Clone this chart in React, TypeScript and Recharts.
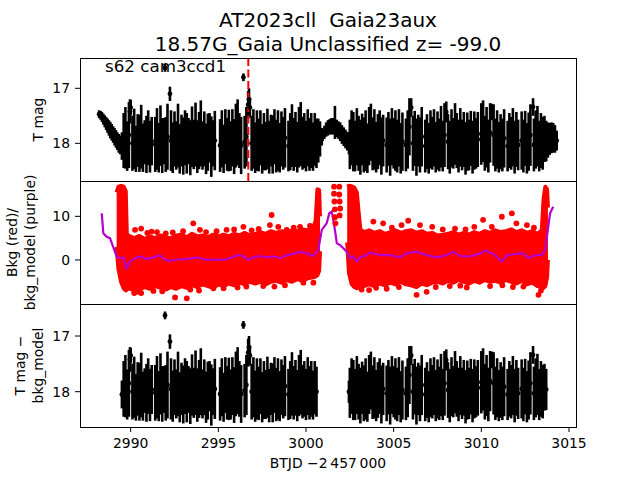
import React from 'react';
import {
  ComposedChart,
  Scatter,
  ErrorBar,
  Area,
  Line,
  XAxis,
  YAxis,
  ReferenceLine
} from 'recharts';

// T mag light curve, rows are [BTJD - 2457000, mag, err]
const rampStart = [
  [2988.2, 17.47, 0.07], [2988.28, 17.49, 0.08], [2988.36, 17.52, 0.09], [2988.44, 17.56, 0.1],
  [2988.52, 17.6, 0.11], [2988.6, 17.64, 0.12], [2988.68, 17.68, 0.13], [2988.76, 17.72, 0.14],
  [2988.84, 17.76, 0.15], [2988.92, 17.8, 0.15], [2989.0, 17.84, 0.15], [2989.08, 17.88, 0.16],
  [2989.16, 17.92, 0.16], [2989.24, 17.96, 0.16], [2989.32, 18.0, 0.17], [2989.4, 18.03, 0.17],
];

const orbit1 = [
  [2989.5, 18.05, 0.25], [2989.6, 17.95, 0.5], [2989.7, 17.9, 0.56], [2989.8, 18.05, 0.45],
  [2989.9, 17.85, 0.6], [2989.96, 17.42, 0.22], [2990.0, 17.35, 0.14], [2990.1, 18.0, 0.5],
  [2990.2, 17.92, 0.55], [2990.3, 18.1, 0.42], [2990.4, 17.95, 0.48], [2990.5, 18.0, 0.52],
  [2990.6, 17.88, 0.58], [2990.7, 18.08, 0.44], [2990.8, 17.98, 0.4], [2990.9, 18.02, 0.52],
  [2991.0, 17.9, 0.5], [2991.1, 18.06, 0.47], [2991.2, 17.96, 0.44], [2991.4, 18.02, 0.5],
  [2991.5, 17.92, 0.56], [2991.6, 18.08, 0.45], [2991.7, 17.86, 0.55], [2991.8, 18.04, 0.5],
  [2991.9, 17.96, 0.42], [2991.96, 16.63, 0.07], [2992.0, 18.02, 0.5], [2992.1, 17.88, 0.6],
  [2992.24, 17.1, 0.13], [2992.3, 17.95, 0.55], [2992.4, 18.08, 0.46], [2992.5, 17.92, 0.5],
  [2992.6, 18.04, 0.44], [2992.7, 17.86, 0.58], [2992.8, 18.1, 0.45], [2992.9, 17.95, 0.47],
  [2993.0, 18.05, 0.52], [2993.1, 17.9, 0.5], [2993.2, 18.0, 0.55], [2993.3, 17.96, 0.42],
  [2993.4, 18.08, 0.5], [2993.5, 17.88, 0.55], [2993.6, 18.02, 0.45], [2993.7, 17.84, 0.58],
  [2993.8, 18.06, 0.48], [2993.9, 17.95, 0.52], [2994.0, 17.82, 0.6], [2994.1, 18.04, 0.44],
  [2994.2, 17.92, 0.5], [2994.3, 18.1, 0.46], [2994.4, 17.98, 0.52], [2994.5, 17.9, 0.45],
  [2994.6, 18.06, 0.55], [2994.7, 18.0, 0.42], [2994.8, 17.95, 0.54], [2995.1, 18.04, 0.48],
  [2995.2, 17.92, 0.52], [2995.3, 18.1, 0.44], [2995.4, 17.88, 0.5], [2995.5, 18.02, 0.48],
  [2995.6, 17.95, 0.56], [2995.7, 18.05, 0.45], [2995.8, 17.9, 0.52], [2995.9, 18.06, 0.5],
  [2996.0, 17.86, 0.58], [2996.1, 17.8, 0.6], [2996.2, 17.95, 0.5], [2996.3, 18.04, 0.52],
  [2996.43, 16.8, 0.07], [2996.5, 17.98, 0.48], [2996.6, 17.88, 0.54], [2996.7, 17.3, 0.25],
  [2996.75, 17.2, 0.2], [2996.8, 17.35, 0.18], [2996.9, 18.0, 0.5], [2997.0, 17.92, 0.54],
  [2997.1, 18.08, 0.46], [2997.2, 17.95, 0.55], [2997.3, 18.03, 0.48], [2997.4, 17.9, 0.5],
  [2997.5, 18.1, 0.45], [2997.6, 17.97, 0.52], [2997.7, 18.05, 0.44], [2997.8, 17.92, 0.55],
  [2997.9, 18.07, 0.48], [2998.0, 17.95, 0.47], [2998.1, 18.02, 0.53], [2998.2, 17.88, 0.5],
  [2998.3, 18.05, 0.48], [2998.4, 17.95, 0.55], [2998.5, 18.08, 0.45], [2998.6, 17.92, 0.5],
  [2998.7, 18.0, 0.48], [2998.8, 17.9, 0.54], [2999.0, 18.05, 0.46], [2999.1, 17.97, 0.52],
  [2999.2, 17.86, 0.57], [2999.3, 18.02, 0.48], [2999.4, 17.93, 0.5], [2999.5, 18.07, 0.46],
  [2999.6, 17.89, 0.55], [2999.7, 17.83, 0.58], [2999.8, 18.0, 0.48], [2999.9, 17.95, 0.5],
  [3000.0, 18.05, 0.46], [3000.1, 17.9, 0.52], [3000.2, 18.02, 0.48], [3000.3, 17.95, 0.5],
  [3000.4, 18.06, 0.44], [3000.5, 17.93, 0.48], [3000.6, 18.0, 0.45], [3000.7, 17.95, 0.4],
  [3000.8, 17.92, 0.32], [3000.9, 17.88, 0.16],
];

const hump = [
  [3000.95, 17.86, 0.1], [3001.05, 17.8, 0.12], [3001.15, 17.75, 0.13], [3001.25, 17.72, 0.14],
  [3001.35, 17.7, 0.14], [3001.45, 17.69, 0.15], [3001.55, 17.69, 0.15], [3001.65, 17.62, 0.3],
  [3001.75, 17.73, 0.16], [3001.85, 17.76, 0.16], [3001.95, 17.79, 0.17], [3002.05, 17.84, 0.17],
  [3002.15, 17.88, 0.17], [3002.25, 17.92, 0.17], [3002.35, 17.96, 0.17], [3002.45, 18.0, 0.2],
];

const orbit2 = [
  [3002.5, 18.02, 0.45], [3002.6, 17.9, 0.5], [3002.7, 17.97, 0.54], [3002.8, 18.05, 0.46],
  [3002.9, 17.88, 0.52], [3003.0, 18.0, 0.5], [3003.1, 18.07, 0.5], [3003.2, 17.93, 0.47],
  [3003.3, 18.03, 0.5], [3003.4, 17.95, 0.55], [3003.5, 18.09, 0.45], [3003.6, 17.87, 0.53],
  [3003.7, 17.8, 0.52], [3003.8, 18.01, 0.48], [3003.9, 17.93, 0.55], [3004.0, 18.07, 0.46],
  [3004.1, 17.97, 0.5], [3004.2, 17.9, 0.5], [3004.3, 18.05, 0.52], [3004.4, 17.95, 0.47],
  [3004.6, 18.03, 0.5], [3004.7, 17.92, 0.49], [3004.8, 18.07, 0.52], [3004.9, 17.88, 0.52],
  [3005.0, 18.0, 0.46], [3005.1, 17.95, 0.55], [3005.2, 18.05, 0.48], [3005.3, 17.9, 0.52],
  [3005.4, 18.09, 0.46], [3005.5, 17.97, 0.53], [3005.7, 18.03, 0.48], [3005.8, 17.93, 0.53],
  [3005.9, 17.7, 0.52], [3006.0, 17.35, 0.17], [3006.1, 18.0, 0.5], [3006.2, 17.91, 0.5],
  [3006.3, 18.07, 0.52], [3006.4, 17.95, 0.47], [3006.5, 18.03, 0.5], [3006.6, 17.88, 0.54],
  [3006.8, 18.05, 0.48], [3006.9, 17.97, 0.5], [3007.0, 18.09, 0.46], [3007.1, 17.93, 0.53],
  [3007.2, 18.0, 0.48], [3007.3, 17.9, 0.52], [3007.4, 18.07, 0.46], [3007.5, 17.95, 0.53],
  [3007.6, 18.03, 0.48], [3007.7, 17.88, 0.56], [3007.8, 18.05, 0.46], [3007.9, 17.85, 0.58],
  [3008.0, 17.43, 0.19], [3008.1, 17.97, 0.5], [3008.2, 18.07, 0.48], [3008.3, 17.91, 0.53],
  [3008.4, 18.0, 0.46], [3008.5, 17.83, 0.56], [3008.6, 17.95, 0.5], [3008.7, 18.05, 0.48],
  [3008.8, 17.89, 0.53], [3008.9, 18.03, 0.46], [3009.0, 17.93, 0.5], [3009.1, 18.09, 0.48],
  [3009.2, 17.97, 0.53], [3009.3, 18.03, 0.46], [3009.4, 17.91, 0.5], [3009.5, 18.07, 0.48],
  [3009.6, 17.95, 0.53], [3009.7, 18.0, 0.46], [3009.8, 17.93, 0.5], [3010.0, 17.83, 0.56],
  [3010.1, 17.78, 0.56], [3010.2, 18.0, 0.5], [3010.3, 17.89, 0.55], [3010.4, 18.05, 0.48],
  [3010.5, 17.81, 0.54], [3010.6, 17.43, 0.15], [3010.7, 17.85, 0.56], [3010.8, 18.03, 0.48],
  [3010.9, 17.93, 0.53], [3011.0, 18.07, 0.46], [3011.1, 17.97, 0.5], [3011.2, 18.03, 0.48],
  [3011.3, 17.91, 0.53], [3011.5, 18.05, 0.46], [3011.6, 17.95, 0.5], [3011.7, 18.0, 0.48],
  [3011.8, 17.89, 0.53], [3011.9, 18.07, 0.48], [3012.0, 17.93, 0.5], [3012.1, 18.03, 0.46],
  [3012.3, 17.95, 0.53], [3012.4, 18.05, 0.48], [3012.5, 17.91, 0.5], [3012.6, 18.09, 0.46],
  [3012.7, 17.97, 0.53], [3012.8, 17.85, 0.56], [3012.95, 17.34, 0.16], [3013.0, 18.03, 0.48],
  [3013.1, 17.93, 0.53], [3013.2, 17.87, 0.55], [3013.3, 18.05, 0.46], [3013.4, 17.95, 0.5],
  [3013.5, 18.0, 0.48], [3013.6, 17.92, 0.42], [3013.7, 17.96, 0.37], [3013.8, 17.94, 0.32],
  [3013.9, 17.92, 0.29], [3014.0, 17.9, 0.28], [3014.1, 17.9, 0.27], [3014.2, 17.92, 0.25],
  [3014.3, 17.95, 0.18],
];

// time windows kept in the bottom (T mag - bkg_model) panel
const diffWindows = [[2989.45, 3000.65], [3002.45, 3013.75]];

// background flux: spread of the red points per orbit, rows are [BTJD, low, high]
const bkgBand1 = [
  [2989.2, 3, 15.5], [2989.3, -2, 16.8], [2989.45, -5, 17.0], [2989.6, -6.5, 16.8],
  [2989.72, -7, 15.8], [2989.78, -6.8, 6], [2989.9, -6.5, 5.5], [2990.2, -7, 5],
  [2990.5, -6.8, 5.5], [2990.8, -6.2, 4.8], [2991.1, -6.6, 5.4], [2991.4, -6.0, 5.0],
  [2991.7, -6.4, 5.6], [2992.0, -6.8, 5.2], [2992.3, -6.2, 5.0], [2992.6, -6.6, 5.6],
  [2992.9, -6.0, 5.8], [2993.2, -6.4, 5.2], [2993.5, -5.8, 6.0], [2993.8, -6.2, 5.4],
  [2994.1, -5.6, 5.6], [2994.4, -6.0, 5.2], [2994.7, -6.4, 5.8], [2995.0, -5.6, 5.4],
  [2995.3, -6.0, 5.8], [2995.6, -5.4, 5.4], [2995.9, -5.8, 6.0], [2996.2, -5.2, 5.6],
  [2996.5, -5.6, 6.2], [2996.8, -5.0, 5.6], [2997.1, -5.4, 6.0], [2997.4, -5.0, 6.4],
  [2997.7, -5.6, 6.0], [2998.0, -5.0, 6.6], [2998.3, -4.8, 6.2], [2998.6, -5.2, 6.6],
  [2998.9, -4.6, 6.4], [2999.2, -5.0, 6.8], [2999.5, -4.4, 6.6], [2999.8, -4.8, 7.0],
  [3000.1, -4.2, 6.8], [3000.4, -4.0, 7.2], [3000.55, -3.8, 9], [3000.65, -3.5, 16.2],
  [3000.75, -2.5, 16.0], [3000.8, 2, 10],
];

const bkgBand2 = [
  [3002.35, 4, 16.8], [3002.45, -3, 17.0], [3002.6, -5.5, 16.9], [3002.75, -6.2, 16.6],
  [3002.9, -6.5, 15.5], [3003.0, -6.4, 11], [3003.1, -6.2, 7], [3003.3, -6.0, 6.4],
  [3003.6, -5.6, 6.8], [3003.9, -6.0, 6.2], [3004.2, -5.4, 6.6], [3004.5, -5.8, 6.0],
  [3004.8, -5.2, 6.4], [3005.1, -5.6, 6.8], [3005.4, -5.0, 6.2], [3005.7, -5.6, 6.6],
  [3006.0, -5.8, 6.8], [3006.3, -6.2, 6.2], [3006.6, -5.4, 6.6], [3006.9, -5.8, 6.0],
  [3007.2, -5.2, 6.2], [3007.5, -5.0, 5.6], [3007.8, -5.4, 5.8], [3008.1, -4.8, 6.0],
  [3008.4, -5.2, 6.4], [3008.7, -4.6, 5.8], [3009.0, -5.0, 6.2], [3009.3, -5.4, 5.8],
  [3009.6, -4.8, 6.4], [3009.9, -5.2, 6.0], [3010.2, -4.6, 6.6], [3010.5, -5.0, 6.2],
  [3010.8, -4.8, 6.8], [3011.1, -5.2, 6.4], [3011.4, -4.6, 6.6], [3011.7, -5.0, 7.0],
  [3012.0, -5.4, 6.4], [3012.3, -4.8, 6.8], [3012.6, -5.6, 6.2], [3012.9, -5.2, 6.6],
  [3013.2, -6.0, 6.0], [3013.45, -6.2, 6.8], [3013.55, -6.4, 14], [3013.65, -6.0, 16.8],
  [3013.75, -4.0, 16.2], [3013.8, 0, 12],
];

// isolated red points outside the dense band, rows are [BTJD, bkg]
const bkgDots = [
  [2990.25, 6.9], [2990.6, 7.2], [2990.95, 6.2], [2991.19, 6.5], [2991.5, 6.4], [2992.0, 6.1],
  [2992.4, 6.3], [2992.99, 6.6], [2993.57, 8.4], [2993.95, 6.9], [2994.3, 6.4], [2994.9, 6.6],
  [2995.47, 6.9], [2995.9, 7.0], [2996.43, 7.6], [2996.9, 6.8], [2997.3, 7.1], [2997.94, 8.0],
  [2998.04, 10.3], [2998.42, 7.6], [2998.9, 6.9], [2999.3, 7.4], [2999.66, 7.6], [3000.23, 7.8],
  [2990.2, -7.6], [2990.43, -7.3], [2990.6, -7.6], [2991.3, -7.1], [2991.8, -7.2], [2992.53, -8.6],
  [2993.2, -8.8], [2993.4, -6.8], [2993.9, -7.0], [2994.72, -6.5], [2995.3, -6.5], [2996.1, -6.3],
  [2996.6, -6.1], [2997.56, -6.0], [2998.2, -6.1], [2998.8, -5.8], [2999.85, -5.2], [3000.42, -5.2],
  [3001.6, 16.8], [3001.6, 15.2], [3001.62, 13.4], [3001.65, 11.6], [3001.65, 9.8], [3001.68, 8.4],
  [3001.9, 16.8], [3001.9, 15.0], [3001.92, 13.4], [3001.95, 11.8], [3001.92, 10.2],
  [3003.84, 8.8], [3004.4, 8.4], [3004.9, 7.4], [3005.45, 8.0], [3005.83, 9.0], [3006.5, 8.0],
  [3007.2, 7.6], [3007.8, 7.0], [3008.5, 7.2], [3009.1, 7.0], [3009.6, 7.6], [3010.1, 9.2],
  [3010.6, 7.6], [3011.17, 9.9], [3011.74, 10.7], [3012.0, 8.4], [3012.6, 8.0], [3013.0, 7.4],
  [3003.17, -6.8], [3003.6, -6.9], [3004.0, -6.4], [3004.6, -6.6], [3005.3, -6.2], [3006.31, -8.0],
  [3006.88, -7.3], [3007.4, -6.2], [3008.2, -6.0], [3008.8, -5.9], [3009.17, -6.3], [3010.5, -6.0],
  [3011.2, -5.8], [3011.8, -6.2], [3012.4, -6.1], [3013.26, -8.0], [3013.4, -7.0],
];

// purple background model, rows are [BTJD, bkg_model]
const bkgModel = [
  [2988.35, 10.7], [2988.44, 6.1], [2988.63, 5.3], [2988.82, 5.0], [2989.0, 3.0], [2989.2, 0.8],
  [2989.39, 0.4], [2989.58, 0.6], [2989.77, -1.9], [2989.96, -0.4], [2990.25, 0.4], [2990.53, 0.8],
  [2990.91, 0.2], [2991.29, 0.6], [2991.67, 1.1], [2991.96, 0.0], [2992.24, -0.2], [2992.62, 0.1],
  [2993.19, 0.2], [2993.76, 0.6], [2994.34, 0.0], [2994.9, 0.1], [2995.28, 0.0], [2995.67, 0.4],
  [2996.05, 1.1], [2996.43, 0.9], [2996.71, 0.0], [2996.99, 0.6], [2997.37, 0.9], [2997.75, 0.6],
  [2998.13, 0.8], [2998.52, 0.4], [2998.9, 1.1], [2999.28, 1.4], [2999.66, 1.9], [3000.04, 1.5],
  [3000.42, 0.9], [3000.7, 2.3], [3000.9, 6.9], [3001.18, 8.4], [3001.33, 10.7], [3001.47, 11.1],
  [3001.65, 6.9], [3001.76, 3.8], [3001.95, 3.4], [3002.13, 2.7], [3002.32, 1.9], [3002.51, 0.4],
  [3002.7, 0.8], [3002.89, -0.4], [3003.08, 0.6], [3003.46, 1.1], [3003.65, 1.7], [3004.22, 1.1],
  [3004.79, 1.1], [3005.36, 0.6], [3005.74, 1.5], [3006.31, 1.9], [3006.88, 1.1], [3007.45, 0.6],
  [3008.03, 1.1], [3008.4, 1.9], [3008.78, 0.9], [3009.36, 0.8], [3009.93, 1.5], [3010.22, 2.1],
  [3010.69, 1.4], [3011.17, -0.4], [3011.46, 1.1], [3012.03, 1.4], [3012.4, 1.5], [3012.69, 0.4],
  [3013.07, 1.1], [3013.45, 1.1], [3013.64, 2.3], [3013.92, 10.7], [3014.1, 12.2],
];

const xTicks = [2990, 2995, 3000, 3005, 3010, 3015];
const magTicks = [17, 18];
const bkgTicks = [-10, 0, 10];
const peakTime = 2996.71;

const X_DOMAIN = [2987.11, 3015.4];
const FONT = '"DejaVu Sans", sans-serif';

const lc = [...rampStart, ...orbit1, ...hump, ...orbit2].map(([t, m, e]) => ({ t, m, e }));
const lcDiff = lc.filter((p) => diffWindows.some(([a, b]) => p.t >= a && p.t <= b));
const band1 = bkgBand1.map(([t, lo, hi]) => ({ t, rng: [lo, hi] }));
const band2 = bkgBand2.map(([t, lo, hi]) => ({ t, rng: [lo, hi] }));
const dots = bkgDots.map(([t, v]) => ({ t, v }));
const model = bkgModel.map(([t, v]) => ({ t, v }));

const minus = (v: number) => String(v).replace('-', '\u2212');
const tickStyle = { fill: '#000', fontSize: 13.9, fontFamily: FONT };

const BlackDot = (p: any) => <circle cx={p.cx} cy={p.cy} r={2.4} fill="#000" />;
const RedDot = (p: any) => <circle cx={p.cx} cy={p.cy} r={2.9} fill="#ff0000" />;

const magAxis = (domain: number[]) => (
  <YAxis
    dataKey="m"
    type="number"
    domain={domain}
    reversed
    allowDataOverflow
    ticks={magTicks}
    width={80}
    axisLine={false}
    stroke="#000"
    tickSize={5}
    tickMargin={5}
    tick={tickStyle}
  />
);

const LightCurve = ({ data }: { data: any[] }) => (
  <Scatter data={data} shape={BlackDot} isAnimationActive={false}>
    <ErrorBar dataKey="e" direction="y" width={0} stroke="#000" strokeWidth={2.6} isAnimationActive={false} />
  </Scatter>
);

const Frame = ({ y }: { y: number }) => (
  <rect x={80.5} y={y + 0.5} width={496} height={123} fill="none" stroke="#000" strokeWidth={1} />
);

export default function App() {
  return (
    <div style={{ position: 'absolute', left: 0, top: 0, width: 640, height: 480, background: '#fff', fontFamily: FONT }}>
      <div style={{ position: 'absolute', left: 0, top: 58 }}>
        <ComposedChart width={640} height={123} margin={{ top: 0, right: 64, bottom: 0, left: 0 }}>
          <XAxis dataKey="t" type="number" domain={X_DOMAIN} allowDataOverflow hide />
          {magAxis([16.449, 18.685])}
          {LightCurve({ data: lc })}
          <ReferenceLine x={peakTime} stroke="#ff0000" strokeWidth={2} strokeDasharray="8 3.5" />
        </ComposedChart>
      </div>

      <div style={{ position: 'absolute', left: 0, top: 181 }}>
        <ComposedChart width={640} height={123} margin={{ top: 0, right: 64, bottom: 0, left: 0 }}>
          <XAxis dataKey="t" type="number" domain={X_DOMAIN} allowDataOverflow hide />
          <YAxis
            dataKey="v"
            type="number"
            domain={[-10.1, 18.1]}
            allowDataOverflow
            ticks={bkgTicks}
            width={80}
            axisLine={false}
            stroke="#000"
            tickSize={5}
            tickMargin={5}
            tick={tickStyle}
            tickFormatter={minus}
          />
          <Area data={band1} dataKey="rng" type="linear" stroke="#ff0000" strokeWidth={4} strokeLinejoin="round" fill="#ff0000" fillOpacity={1} isAnimationActive={false} />
          <Area data={band2} dataKey="rng" type="linear" stroke="#ff0000" strokeWidth={4} strokeLinejoin="round" fill="#ff0000" fillOpacity={1} isAnimationActive={false} />
          <Scatter data={dots} shape={RedDot} isAnimationActive={false} />
          <Line data={model} dataKey="v" type="linear" stroke="#b400cc" strokeWidth={2.2} dot={false} isAnimationActive={false} />
        </ComposedChart>
      </div>

      <div style={{ position: 'absolute', left: 0, top: 304 }}>
        <ComposedChart width={640} height={163} margin={{ top: 0, right: 64, bottom: 0, left: 0 }}>
          <XAxis
            dataKey="t"
            type="number"
            domain={X_DOMAIN}
            allowDataOverflow
            ticks={xTicks}
            height={40}
            axisLine={false}
            stroke="#000"
            tickSize={5}
            tickMargin={6}
            tick={tickStyle}
          />
          {magAxis([16.425, 18.634])}
          {LightCurve({ data: lcDiff })}
        </ComposedChart>
      </div>

      <svg width={640} height={480} style={{ position: 'absolute', left: 0, top: 0, pointerEvents: 'none' }} fontFamily={FONT}>
        <Frame y={58} />
        <Frame y={181} />
        <Frame y={304} />
        <text x={328} y={26.5} fontSize={20} textAnchor="middle" style={{ whiteSpace: 'pre' }}>AT2023cll  Gaia23aux</text>
        <text x={328} y={50.5} fontSize={20} textAnchor="middle">18.57G_Gaia Unclassified z= -99.0</text>
        <text x={105} y={72} fontSize={16.7}>s62 cam3ccd1</text>
        <text x={328} y={468} fontSize={13.9} textAnchor="middle">BTJD {'\u22122\u2009457\u2009000'}</text>
        <text transform="translate(43.4,119.5) rotate(-90)" fontSize={13.9} textAnchor="middle">T mag</text>
        <text transform="translate(16.8,242.5) rotate(-90)" fontSize={13.9} textAnchor="middle">Bkg (red)/</text>
        <text transform="translate(34.5,242.5) rotate(-90)" fontSize={13.9} textAnchor="middle">bkg_model (purple)</text>
        <text transform="translate(25.3,365.5) rotate(-90)" fontSize={13.9} textAnchor="middle">{'T mag \u2212'}</text>
        <text transform="translate(43.4,365.5) rotate(-90)" fontSize={13.9} textAnchor="middle">bkg_model</text>
      </svg>
    </div>
  );
}
